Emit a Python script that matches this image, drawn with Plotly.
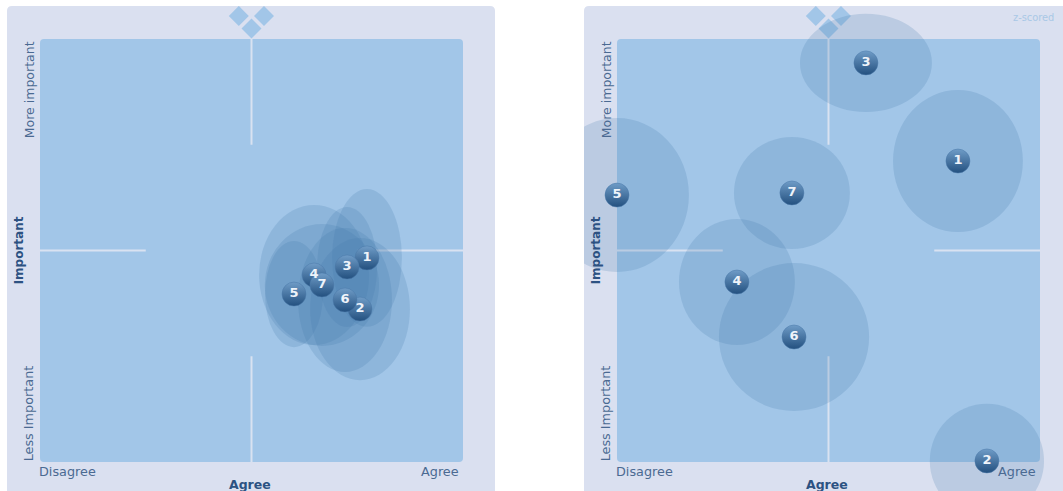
import plotly.graph_objects as go

W, H = 1063, 491
S = 2.115  # pixels per score unit

numbers = ["1", "2", "3", "4", "5", "6", "7"]
left_x = [54.6, 51.3, 45.2, 29.6, 20.1, 44.2, 33.3]
left_y = [-3.5, -27.7, -7.8, -11.6, -20.6, -23.4, -16.3]
left_rx = [16.5, 23.6, 14.2, 26.0, 13.7, 22.2, 27.0]
left_ry = [32.6, 33.6, 28.4, 33.1, 25.1, 34.0, 28.8]
right_x = [61.2, 74.9, 17.7, -43.3, -100.0, -16.3, -17.3]
right_y = [42.3, -99.5, 88.7, -14.9, 26.2, -40.9, 27.2]
right_rx = [30.7, 27.0, 31.2, 27.4, 34.0, 35.5, 27.4]
right_ry = [33.6, 27.0, 23.2, 29.8, 36.4, 35.0, 26.5]

PANEL = "#dae0f0"
INNER = "#a2c6e8"
LINE = "#d9e2f1"
BUBBLE = "rgba(67,120,172,0.2)"
TXT = "#4a6a92"
BOLD = "#2c5282"
FONT = "DejaVu Sans"


def rounded(x0, x1, y0, y1, r):
    return (f"M{x0+r},{y0} L{x1-r},{y0} Q{x1},{y0} {x1},{y0+r} L{x1},{y1-r} Q{x1},{y1} {x1-r},{y1} "
            f"L{x0+r},{y1} Q{x0},{y1} {x0},{y1-r} L{x0},{y0+r} Q{x0},{y0} {x0+r},{y0} Z")


def diamond(cx, cy, r):
    return f"M{cx-r},{cy} L{cx},{cy+r} L{cx+r},{cy} L{cx},{cy-r} Z"


def panel(xr, yr, bx, by, brx, bry):
    sh = []
    ref = dict(xref=xr, yref=yr, layer="below")
    u = 1 / S
    sh.append(dict(type="path", path=rounded(-100 - 33 * u, 100 + 32 * u, -100 - 36 * u, 100 + 33 * u, 5 * u),
                   fillcolor=PANEL, line_width=0, **ref))
    sh.append(dict(type="path", path=rounded(-100, 100, -100, 100, 4 * u), fillcolor=INNER, line_width=0, **ref))
    for x0, x1, y0, y1 in [(0, 0, 100, 50), (0, 0, -50, -100), (-100, -50, 0, 0), (50, 100, 0, 0)]:
        sh.append(dict(type="line", x0=x0, x1=x1, y0=y0, y1=y1, line=dict(color=LINE, width=2), **ref))
    for dx, dy in [(-6.0, 110.9), (5.9, 110.9), (0, 105.0)]:
        sh.append(dict(type="path", path=diamond(dx, dy, 10 * u), fillcolor=INNER, line_width=0, **ref))
    for x, y, a, b in zip(bx, by, brx, bry):
        sh.append(dict(type="circle", x0=x - a, x1=x + a, y0=y - b, y1=y + b,
                       fillcolor=BUBBLE, line_width=0, **ref))
    return sh


def balls(x, y, xa, ya):
    return go.Scatter(
        x=x, y=y, xaxis=xa, yaxis=ya, mode="markers+text", text=numbers,
        textposition="middle center", cliponaxis=False,
        textfont=dict(family=FONT, size=13, color="#eef3fa", weight="bold"),
        marker=dict(size=24, color="#6f9cc7", line=dict(color="#4a78a8", width=0.5),
                    gradient=dict(type="vertical", color="#23507f")),
        hoverinfo="skip", showlegend=False)


fig = go.Figure([balls(left_x, left_y, "x", "y"), balls(right_x, right_y, "x2", "y2")])
fig.update_layout(shapes=panel("x", "y", left_x, left_y, left_rx, left_ry)
                  + panel("x2", "y2", right_x, right_y, right_rx, right_ry))


def axis(domain, rng):
    return dict(domain=domain, range=rng, visible=False, fixedrange=True)


ytop, ybot = 6, 491
yrange = [(250.5 - ybot) / S, (250.5 - ytop) / S]
ydom = [0, (H - ytop) / H]
fig.update_layout(
    width=W, height=H, autosize=False, margin=dict(l=0, r=0, t=0, b=0),
    paper_bgcolor="white", plot_bgcolor="rgba(0,0,0,0)",
    xaxis=axis([7 / W, 495 / W], [(7 - 251.5) / S, (495 - 251.5) / S]),
    yaxis=axis(ydom, yrange),
    xaxis2=axis([584 / W, 1], [(584 - 828.5) / S, (1063 - 828.5) / S]),
    yaxis2=axis(ydom, yrange),
)


def label(xr, yr, x, y, text, anchor="center", angle=0, bold=False, size=12.8, color=None):
    fig.add_annotation(xref=xr, yref=yr, x=x, y=y, text=f"<b>{text}</b>" if bold else text,
                       showarrow=False, xanchor=anchor, yanchor="middle", textangle=angle,
                       font=dict(family=FONT, size=size, color=color or (BOLD if bold else TXT)),
                       borderpad=0, borderwidth=0)


for xr, yr in [("x", "y"), ("x2", "y2")]:
    label(xr, yr, -100.5, -104.5, "Disagree", "left")
    label(xr, yr, 98, -104.5, "Agree", "right")
    label(xr, yr, -0.8, -110.5, "Agree", bold=True, size=12.5)
    label(xr, yr, -105, 76, "More important", angle=-90, size=12.5)
    label(xr, yr, -105, -76.8, "Less Important", angle=-90)
    label(xr, yr, -110, 0, "Important", angle=-90, bold=True, size=12)
label("x2", "y2", 106.6, 110, "z-scored", "right", size=9.8, color="#a9c8e6")

fig.write_html("out.html", config={"displayModeBar": False},
               post_script="document.body.style.margin='0';document.documentElement.style.overflow='hidden';")
